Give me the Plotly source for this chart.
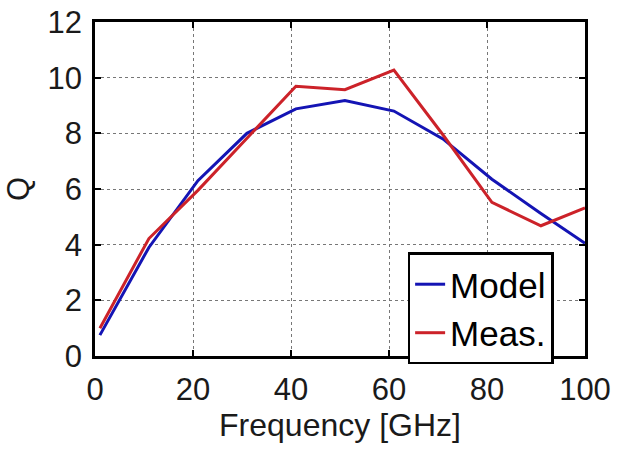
import plotly.graph_objects as go

freq = [1, 11, 21, 31, 41, 51, 61, 71, 81, 91, 100]
q_model = [0.75, 3.9, 6.3, 8.0, 8.88, 9.18, 8.8, 7.8, 6.35, 5.12, 4.05]
q_meas = [1.0, 4.22, 5.95, 7.82, 9.69, 9.57, 10.27, 7.95, 5.52, 4.68, 5.32]

x_ticks = [0, 20, 40, 60, 80, 100]
y_ticks = [0, 2, 4, 6, 8, 10, 12]

FONT = "Liberation Sans, Arial, sans-serif"

fig = go.Figure()
fig.add_trace(go.Scatter(x=freq, y=q_model, mode="lines", name="Model",
                         line=dict(color="#1414B4", width=3)))
fig.add_trace(go.Scatter(x=freq, y=q_meas, mode="lines", name="Meas.",
                         line=dict(color="#CC2229", width=3)))

axis_common = dict(
    showline=True, linecolor="black", linewidth=2.5, mirror="ticks",
    ticks="inside", ticklen=6, tickcolor="black", tickwidth=1.5,
    showgrid=True, gridcolor="#777777", gridwidth=1, griddash="dot",
    zeroline=False,
    tickfont=dict(family=FONT, size=31, color="#1a1a1a"),
)

fig.update_xaxes(range=[0, 100], tickvals=x_ticks, ticklabelstandoff=4,
                 **axis_common,
                 title=dict(text="Frequency [GHz]", standoff=8,
                            font=dict(family=FONT, size=32, color="#1a1a1a")))
fig.update_yaxes(range=[0, 12], tickvals=y_ticks, ticklabelstandoff=4,
                 **axis_common,
                 title=dict(text="Q", standoff=9,
                            font=dict(family=FONT, size=31, color="#1a1a1a")))

fig.update_layout(
    width=621, height=449,
    margin=dict(l=95, r=36, t=22, b=93, autoexpand=False),
    paper_bgcolor="white", plot_bgcolor="white",
    showlegend=True,
    legend=dict(x=0.638, y=0.31, xanchor="left", yanchor="top",
                bgcolor="white", bordercolor="black", borderwidth=2.5,
                font=dict(family=FONT, size=35, color="black"),
                tracegroupgap=0, itemwidth=30),
)

fig.write_html("out.html")
